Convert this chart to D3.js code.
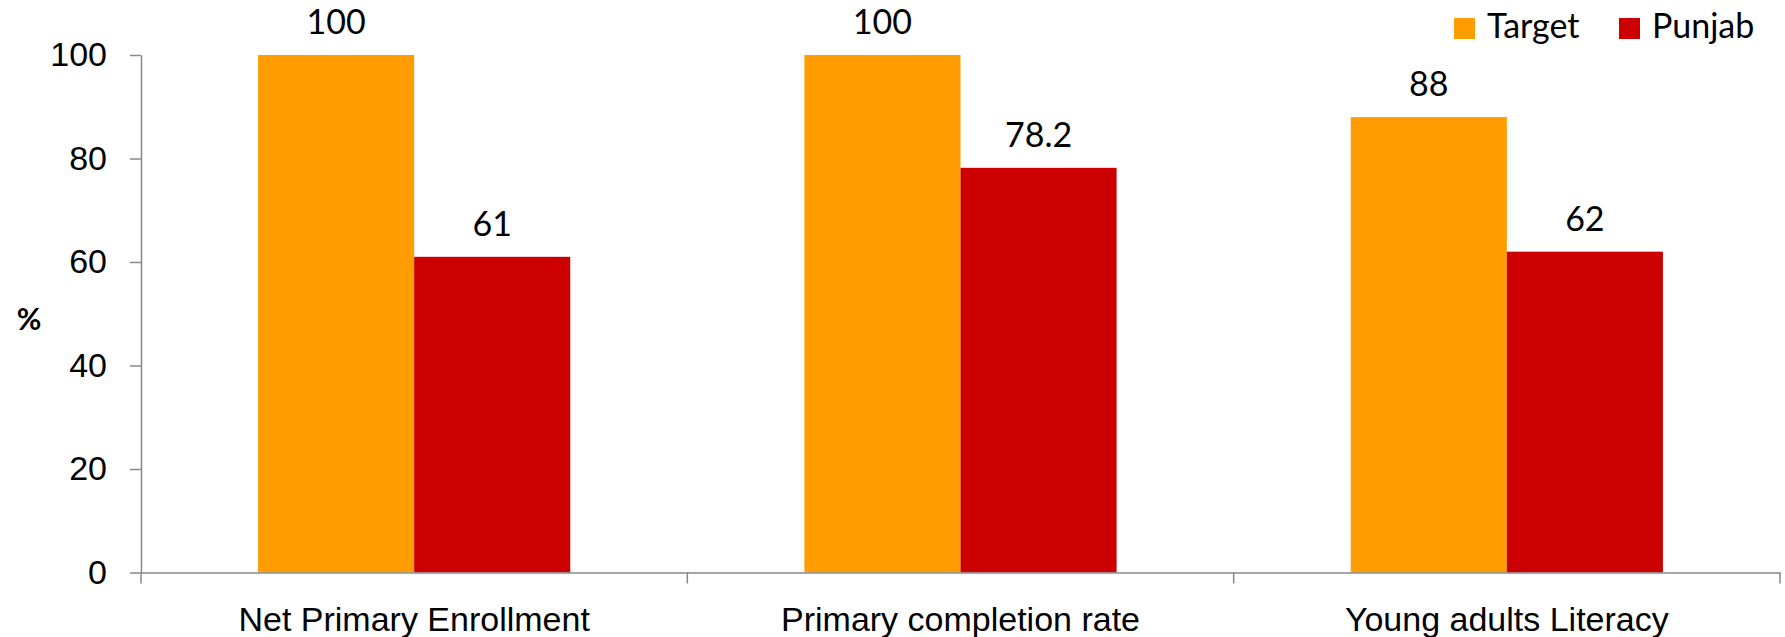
<!DOCTYPE html>
<html>
<head>
<meta charset="utf-8">
<script src="https://cdn.jsdelivr.net/npm/d3@7"></script>
<style>
  body { margin: 0; background: #fff; }
  svg { display: block; font-family: Lato, "Open Sans", sans-serif; }
  .axis path, .axis line { stroke: #888; stroke-width: 1.5; }
  .axis text { fill: #000; }
</style>
</head>
<body>
<div id="chart"></div>
<script>
// Chart data
const categories = ['Net Primary Enrollment', 'Primary completion rate', 'Young adults Literacy'];
const seriesNames = ['Target', 'Punjab'];
const targetValues = [100, 100, 88];
const punjabValues = [61, 78.2, 62];
const yTicks = [0, 20, 40, 60, 80, 100];
const colors = ['#FF9C00', '#CC0000'];

const width = 1785;
const height = 637;
const margin = { top: 55, right: 5, bottom: 64, left: 141 };

const svg = d3.select('#chart')
    .append('svg')
    .attr('width', width)
    .attr('height', height);

// Scales
const x0 = d3.scaleBand()
    .domain(categories)
    .range([margin.left, width - margin.right])
    .padding(0);

// gap width 150% like the original spreadsheet chart
const x1 = d3.scaleBand()
    .domain(seriesNames)
    .range([0, x0.bandwidth()])
    .paddingInner(0)
    .paddingOuter(0.75);

const y = d3.scaleLinear()
    .domain([0, 100])
    .range([height - margin.bottom - 0.5, margin.top]);

const rows = categories.map((c, i) => ({
    category: c,
    values: [
        { name: seriesNames[0], value: targetValues[i] },
        { name: seriesNames[1], value: punjabValues[i] }
    ]
}));

// Bars
const groups = svg.append('g')
    .selectAll('g')
    .data(rows)
    .enter().append('g')
    .attr('transform', d => `translate(${x0(d.category)},0)`);

groups.selectAll('rect')
    .data(d => d.values)
    .enter().append('rect')
    .attr('x', d => x1(d.name))
    .attr('y', d => y(d.value))
    .attr('width', x1.bandwidth())
    .attr('height', d => y(0) - y(d.value))
    .attr('fill', (d, i) => colors[i]);

// Value labels
groups.selectAll('text')
    .data(d => d.values)
    .enter().append('text')
    .attr('x', d => x1(d.name) + x1.bandwidth() / 2)
    .attr('y', d => y(d.value) - 21)
    .attr('text-anchor', 'middle')
    .style('font-size', '34px')
    .text(d => d.value);

// Y axis
const yAxis = svg.append('g')
    .attr('class', 'axis')
    .attr('transform', `translate(${margin.left},0)`)
    .call(d3.axisLeft(y).tickValues(yTicks).tickSize(11).tickSizeOuter(0).tickPadding(23));
yAxis.selectAll('text').style('font-size', '34px');

// X axis: baseline, boundary ticks and category labels
const xAxis = svg.append('g')
    .attr('class', 'axis')
    .attr('transform', `translate(0,${y(0)})`)
    .call(d3.axisBottom(x0).tickSize(0).tickPadding(34));
xAxis.selectAll('text').style('font-size', '34px');

const boundaries = categories.map(c => x0(c)).concat([x0.range()[1]]);
xAxis.selectAll('.boundary')
    .data(boundaries)
    .enter().append('line')
    .attr('class', 'boundary')
    .attr('x1', d => d)
    .attr('x2', d => d)
    .attr('y1', 0)
    .attr('y2', 11);

// Axis title
svg.append('text')
    .attr('x', 29)
    .attr('y', 330)
    .attr('text-anchor', 'middle')
    .style('font-size', '30px')
    .style('font-weight', 'bold')
    .text('%');

// Legend
const legend = svg.append('g')
    .selectAll('g')
    .data(seriesNames)
    .enter().append('g')
    .attr('transform', (d, i) => `translate(${[1454, 1619][i]},18)`);

legend.append('rect')
    .attr('width', 21)
    .attr('height', 21)
    .attr('fill', (d, i) => colors[i]);

legend.append('text')
    .attr('x', 33)
    .attr('y', 20)
    .style('font-size', '34px')
    .text(d => d);
</script>
</body>
</html>
